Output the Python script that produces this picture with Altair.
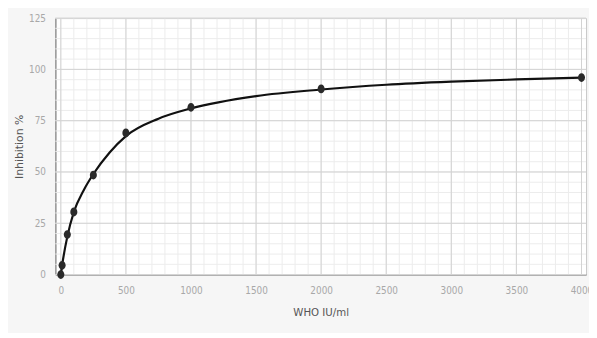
import altair as alt
import pandas as pd

# data
dose = [0, 10, 50, 100, 250, 500, 1000, 2000, 4000]
inhibition = [0, 4.5, 19.5, 30.5, 48.5, 69, 81.5, 90.5, 96]

# smooth fitted curve
curve_x = [0, 10, 50, 100, 175, 250, 375, 500, 750, 1000, 1500, 2000, 2500, 3000, 3500, 4000]
curve_y = [0, 4.5, 18.5, 30.5, 41, 49, 59.5, 67.5, 76, 81, 87, 90.2, 92.5, 94, 95.1, 96]

x_major = [0, 500, 1000, 1500, 2000, 2500, 3000, 3500, 4000]
y_major = [0, 25, 50, 75, 100, 125]
x_minor = list(range(0, 4100, 100))
y_minor = list(range(0, 130, 5))

pts = pd.DataFrame({"dose": dose, "inh": inhibition})
crv = pd.DataFrame({"dose": curve_x, "inh": curve_y})

FONT_NUM = "DejaVu Sans Condensed"
xs = alt.Scale(domain=[-42, 4035], nice=False, zero=False)
ys = alt.Scale(domain=[0, 125], nice=False)

x_axis = alt.Axis(values=x_major, orient="bottom", title="WHO IU/ml", format="d",
                  grid=False, ticks=False, domain=True,
                  domainColor="#9a9a9a", domainWidth=1.5, labelFont=FONT_NUM, labelFontSize=10,
                  labelColor="#a8a8a8", labelPadding=11, titleFont=FONT_NUM, titleFontSize=11.5,
                  titleFontWeight="normal", titleColor="#555555", titlePadding=12)
y_axis = alt.Axis(values=y_major, orient="left", title="Inhibition %", format="d",
                  grid=False, ticks=False, domain=True,
                  domainColor="#9a9a9a", domainWidth=1.5, labelFont=FONT_NUM, labelFontSize=10,
                  labelColor="#a8a8a8", labelPadding=10, titleFont="DejaVu Sans", titleFontSize=11,
                  titleFontWeight="normal", titleColor="#555555",
                  titleX=-36, titleY=130, titleAngle=-90, titleAlign="center", titleBaseline="middle")

def X():
    return alt.X("dose:Q", scale=xs, axis=x_axis)

def Y():
    return alt.Y("inh:Q", scale=ys, axis=y_axis)

vmin = alt.Chart(pd.DataFrame({"dose": x_minor})).mark_rule(color="#ececec", strokeWidth=1).encode(x=X())
hmin = alt.Chart(pd.DataFrame({"inh": y_minor})).mark_rule(color="#ececec", strokeWidth=1).encode(y=Y())
vmaj = alt.Chart(pd.DataFrame({"dose": x_major})).mark_rule(color="#d2d2d2", strokeWidth=1).encode(x=X())
hmaj = alt.Chart(pd.DataFrame({"inh": y_major})).mark_rule(color="#d2d2d2", strokeWidth=1).encode(y=Y())

line = alt.Chart(crv).mark_line(color="#111111", strokeWidth=2.2, interpolate="monotone").encode(
    x=X(), y=Y())

points = alt.Chart(pts).mark_point(filled=True, color="#2a2a2a", size=80, opacity=1,
                                   shape="M-0.8,0A0.8,1 0 1,0 0.8,0A0.8,1 0 1,0 -0.8,0Z").encode(
    x=X(), y=Y())

chart = alt.layer(vmin, hmin, vmaj, hmaj, line, points).properties(
    width=538, height=260,
    autosize=alt.AutoSizeParams(type="none"),
    padding={"left": 48, "top": 8, "right": 3, "bottom": 57},
    background="#f6f6f6",
).configure_view(fill="white", stroke="#c8c8c8", strokeWidth=1)

chart.save("out.html", embed_options={"renderer": "svg", "actions": False})
